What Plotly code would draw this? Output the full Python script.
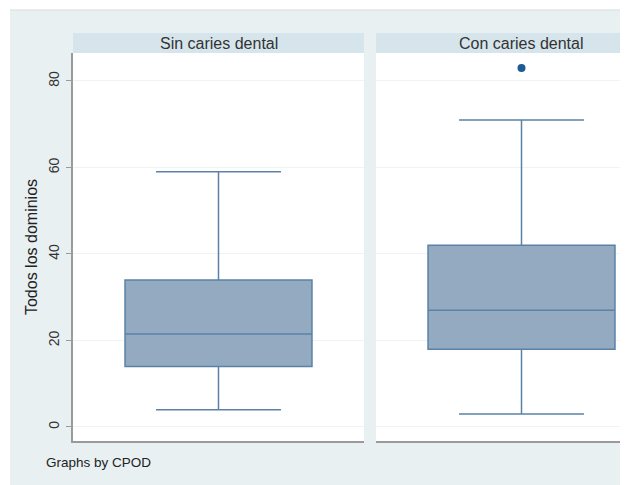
import plotly.graph_objects as go

# ---- data ----
panels = ["Sin caries dental", "Con caries dental"]
lower_whisker = [4, 3]
q1 = [14, 18]
median = [21.5, 27]
q3 = [34, 42]
upper_whisker = [59, 71]
outliers = [[], [83]]
y_ticks = [0, 20, 40, 60, 80]
y_title = "Todos los dominios"
note = "Graphs by CPOD"

# the page body has an 8px margin, so the figure is 8px smaller
OFF = 8
W, H = 628 - OFF, 485 - OFF
BG = "#e8f0f2"
STRIP = "#d5e5eb"
FILL = "#94aac0"
LINE = "#5a82a6"
DOT = "#1f5a94"
AXIS = "#9a9a9a"
FONT = "Liberation Sans, Arial, sans-serif"


def px(x):
    return (x - OFF) / W


def py(y):
    return 1 - (y - OFF) / H


plot_top, plot_bot = 53, 441
x_domains = [[px(73), px(364)], [px(376), 1.0]]
x_ranges = [[-1, 1], [-1, 0.732]]

fig = go.Figure()
for i in range(2):
    xa = "x" if i == 0 else "x2"
    ya = "y" if i == 0 else "y2"
    fig.add_trace(go.Box(
        x=[0], q1=[q1[i]], median=[median[i]], q3=[q3[i]],
        lowerfence=[lower_whisker[i]], upperfence=[upper_whisker[i]],
        width=1.285, whiskerwidth=0.668, fillcolor=FILL,
        line=dict(color=LINE, width=1.5), boxpoints=False,
        xaxis=xa, yaxis=ya, showlegend=False, name=panels[i],
    ))
    if outliers[i]:
        fig.add_trace(go.Scatter(
            x=[0] * len(outliers[i]), y=outliers[i], mode="markers",
            marker=dict(color=DOT, size=8), xaxis=xa, yaxis=ya,
            showlegend=False,
        ))

yr = [-3.24, 86.47]
ydom = [py(plot_bot), py(plot_top)]

layout = dict(
    width=W, height=H,
    margin=dict(l=0, r=0, t=0, b=0),
    paper_bgcolor=BG, plot_bgcolor="white",
    font=dict(family=FONT, color="#333333"),
    xaxis=dict(domain=x_domains[0], range=x_ranges[0], showticklabels=False,
               ticks="", showgrid=False, zeroline=False, showline=True,
               linecolor=AXIS, linewidth=1.5, fixedrange=True),
    xaxis2=dict(domain=x_domains[1], range=x_ranges[1], showticklabels=False,
                ticks="", showgrid=False, zeroline=False, showline=True,
                linecolor=AXIS, linewidth=1.5, anchor="y2", fixedrange=True),
    yaxis=dict(domain=ydom, range=yr, tickvals=y_ticks, tickangle=-90,
               ticks="outside", ticklen=5, tickcolor=AXIS, showline=True,
               linecolor=AXIS, linewidth=1.5, gridcolor="#edf4f6",
               zeroline=False, ticklabelstandoff=2,
               tickfont=dict(size=14, color="#333333"),
               title=dict(text=y_title, font=dict(size=16, color="#222222"),
                          standoff=4)),
    yaxis2=dict(domain=ydom, range=yr, matches="y", anchor="x2",
                tickvals=y_ticks, showticklabels=False, ticks="",
                showline=False, gridcolor="#edf4f6", zeroline=False),
)
fig.update_layout(**layout)

shapes = [
    dict(type="rect", xref="paper", yref="paper", x0=0, x1=1, y0=py(10), y1=1,
         fillcolor="white", line=dict(width=0)),
    dict(type="rect", xref="paper", yref="paper", x0=0, x1=px(10), y0=0, y1=1,
         fillcolor="white", line=dict(width=0)),
    dict(type="line", xref="paper", yref="paper", x0=px(10), x1=1, y0=py(10),
         y1=py(10), line=dict(color="#d8dcdd", width=1)),
]
annotations = []
for i in range(2):
    x0, x1 = x_domains[i]
    shapes.append(dict(type="rect", xref="paper", yref="paper", x0=x0, x1=x1,
                       y0=py(plot_top), y1=py(33), fillcolor=STRIP,
                       line=dict(width=0)))
    cx = x0 + (291 / 2) / W
    annotations.append(dict(text=panels[i], xref="paper", yref="paper",
                            x=cx, y=py(43), xanchor="center", yanchor="middle",
                            showarrow=False,
                            font=dict(size=16, color="#333333")))
annotations.append(dict(text=note, xref="paper", yref="paper", x=px(44),
                        y=py(462), xanchor="left", yanchor="middle",
                        showarrow=False, font=dict(size=13.5, color="#222222")))
fig.update_layout(shapes=shapes, annotations=annotations)

fig.write_html("out.html")
